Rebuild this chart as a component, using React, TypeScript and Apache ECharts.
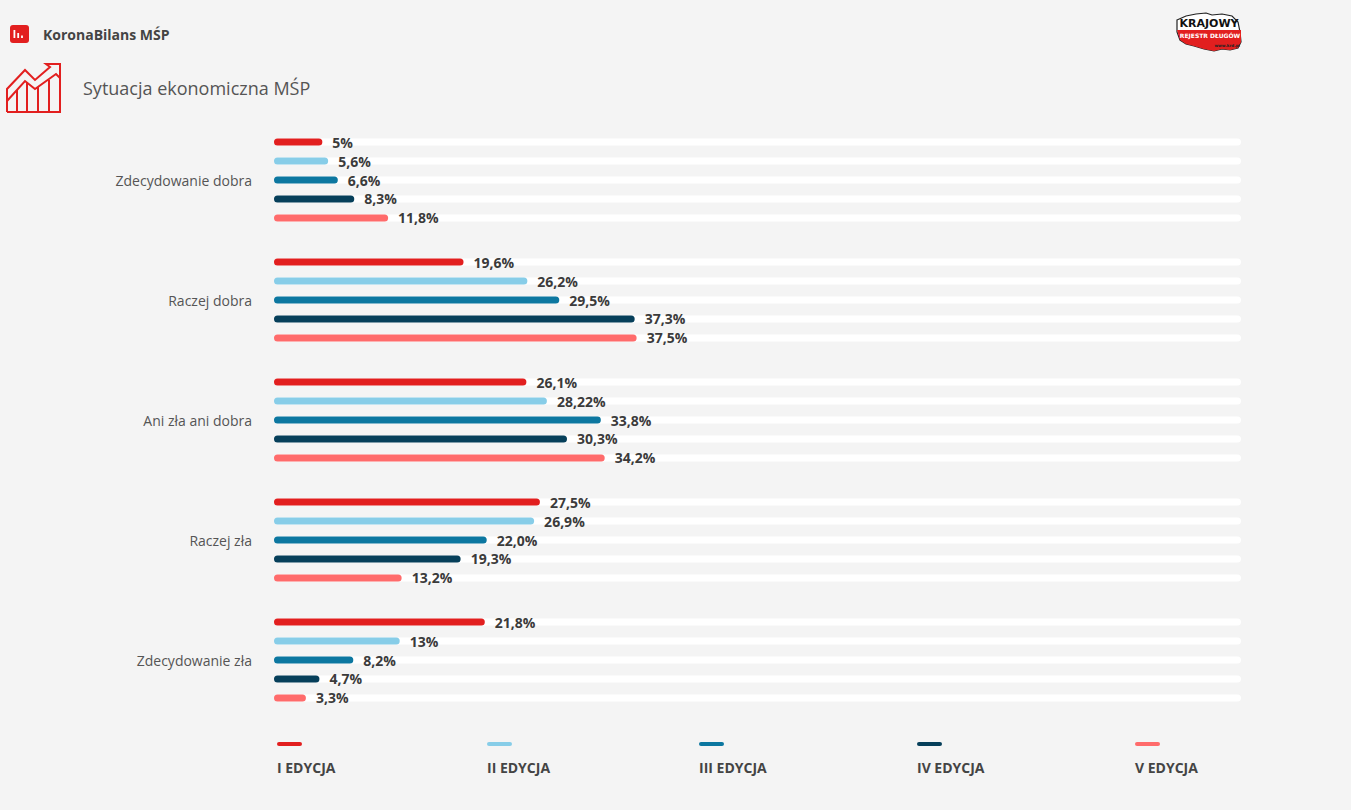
import React, { useEffect, useRef } from "react";
import * as echarts from "echarts";

const categories = [
  "Zdecydowanie dobra",
  "Raczej dobra",
  "Ani zła ani dobra",
  "Raczej zła",
  "Zdecydowanie zła",
];

const seriesNames = ["I EDYCJA", "II EDYCJA", "III EDYCJA", "IV EDYCJA", "V EDYCJA"];

// values as printed (Polish decimal comma)
const edycja1 = ["5", "19,6", "26,1", "27,5", "21,8"];
const edycja2 = ["5,6", "26,2", "28,22", "26,9", "13"];
const edycja3 = ["6,6", "29,5", "33,8", "22,0", "8,2"];
const edycja4 = ["8,3", "37,3", "30,3", "19,3", "4,7"];
const edycja5 = ["11,8", "37,5", "34,2", "13,2", "3,3"];

const seriesValues = [edycja1, edycja2, edycja3, edycja4, edycja5];
const colors = ["#e21f1f", "#87cde8", "#0c77a0", "#063f5a", "#ff6b6b"];
const legendX = [277, 487, 699, 917, 1135];

const toNum = (s: string) => parseFloat(s.replace(",", "."));

export default function App() {
  const ref = useRef<HTMLDivElement>(null);

  useEffect(() => {
    document.body.style.margin = "0";
    if (!ref.current) return;
    const chart = echarts.init(ref.current, undefined, { renderer: "svg" });

    const series = seriesValues.map((vals, i) => ({
      name: seriesNames[i],
      type: "bar",
      data: vals.map((v) => ({ value: toNum(v), label: { formatter: v + "%" } })),
      barWidth: 7,
      barGap: "171%",
      itemStyle: { color: colors[i], borderRadius: 4 },
      showBackground: true,
      backgroundStyle: { color: "#ffffff", borderRadius: 4 },
      label: {
        show: true,
        position: "right",
        distance: 10,
        fontFamily: "Open Sans",
        fontWeight: "bold",
        fontSize: 14,
        color: "#3b3b3b",
      },
    }));

    const legendGraphics: any[] = [];
    seriesNames.forEach((n, i) => {
      legendGraphics.push({
        type: "rect",
        shape: { x: legendX[i], y: 742, width: 25, height: 4, r: 2 },
        style: { fill: colors[i] },
      });
      legendGraphics.push({
        type: "text",
        x: legendX[i],
        y: 767,
        style: {
          text: n,
          fill: "#444",
          font: "bold 14px 'Open Sans'",
          textVerticalAlign: "middle",
        },
      });
    });

    const red = "#e21f1f";
    const stroke = { stroke: red, lineWidth: 2, fill: "none" };

    const headerGraphics: any[] = [
      {
        type: "rect",
        shape: { x: 10, y: 25, width: 19, height: 18, r: 3 },
        style: { fill: red },
      },
      { type: "rect", shape: { x: 13.5, y: 30, width: 1.8, height: 8 }, style: { fill: "#fff" } },
      { type: "rect", shape: { x: 17.3, y: 33, width: 1.8, height: 5 }, style: { fill: "#fff" } },
      { type: "rect", shape: { x: 21.1, y: 35.5, width: 1.8, height: 2.5 }, style: { fill: "#fff" } },
      {
        type: "text",
        x: 43,
        y: 34,
        style: {
          text: "KoronaBilans MŚP",
          fill: "#444",
          font: "bold 14px 'Open Sans'",
          textVerticalAlign: "middle",
        },
      },
      // trend icon
      {
        type: "polyline",
        shape: { points: [[7, 112], [60, 112], [60, 78]] },
        style: stroke,
      },
      {
        type: "polyline",
        shape: {
          points: [
            [7, 112], [7, 89], [25, 70], [35, 80], [50, 67], [46, 64], [60, 64], [60, 78],
            [56, 74], [35, 89], [25, 81], [7, 101],
          ],
        },
        style: stroke,
      },
      { type: "line", shape: { x1: 17, y1: 90, x2: 17, y2: 112 }, style: stroke },
      { type: "line", shape: { x1: 27, y1: 83, x2: 27, y2: 112 }, style: stroke },
      { type: "line", shape: { x1: 38, y1: 87, x2: 38, y2: 112 }, style: stroke },
      { type: "line", shape: { x1: 49, y1: 80, x2: 49, y2: 112 }, style: stroke },
      {
        type: "text",
        x: 83,
        y: 88,
        style: {
          text: "Sytuacja ekonomiczna MŚP",
          fill: "#555",
          font: "18px 'Open Sans'",
          textVerticalAlign: "middle",
        },
      },
      // KRD logo
      {
        type: "polygon",
        shape: {
          points: [
            [1177, 20], [1186, 16], [1196, 14], [1206, 13], [1212, 15], [1222, 14], [1232, 16],
            [1238, 22], [1240, 32], [1241, 42], [1238, 48], [1230, 50], [1222, 49],
            [1214, 51], [1204, 49], [1194, 46], [1186, 44], [1180, 40], [1177, 32],
          ],
        },
        style: { fill: "#fff", stroke: "#222", lineWidth: 1.2 },
      },
      {
        type: "polygon",
        shape: {
          points: [
            [1177, 30], [1241, 30], [1241, 42], [1238, 48], [1230, 50], [1222, 49],
            [1214, 51], [1204, 49], [1194, 46], [1186, 44], [1180, 40],
          ],
        },
        style: { fill: red },
      },
      {
        type: "text",
        x: 1209,
        y: 23,
        style: {
          text: "KRAJOWY",
          fill: "#111",
          font: "bold 11px 'DejaVu Sans'",
          textAlign: "center",
          textVerticalAlign: "middle",
        },
      },
      {
        type: "text",
        x: 1210,
        y: 35.5,
        style: {
          text: "REJESTR DŁUGÓW",
          fill: "#fff",
          font: "bold 6px 'DejaVu Sans'",
          textAlign: "center",
          textVerticalAlign: "middle",
        },
      },
      {
        type: "text",
        x: 1240,
        y: 45,
        style: {
          text: "www.krd.pl",
          fill: "#222",
          font: "bold 4px 'DejaVu Sans'",
          textAlign: "right",
          textVerticalAlign: "middle",
        },
      },
    ];

    chart.setOption({
      animation: false,
      backgroundColor: "#f4f4f4",
      grid: { left: 274, right: 110, top: 120, height: 600, containLabel: false },
      xAxis: {
        type: "value",
        min: 0,
        max: 100,
        show: false,
        splitLine: { show: false },
      },
      yAxis: {
        type: "category",
        data: categories,
        inverse: true,
        axisLine: { show: false },
        axisTick: { show: false },
        axisLabel: {
          color: "#555",
          fontSize: 14,
          fontFamily: "Open Sans",
          margin: 22,
        },
      },
      series,
      graphic: [...headerGraphics, ...legendGraphics],
    });

    return () => chart.dispose();
  }, []);

  return (
    <div
      ref={ref}
      style={{ position: "fixed", left: 0, top: 0, width: 1351, height: 810 }}
    />
  );
}
